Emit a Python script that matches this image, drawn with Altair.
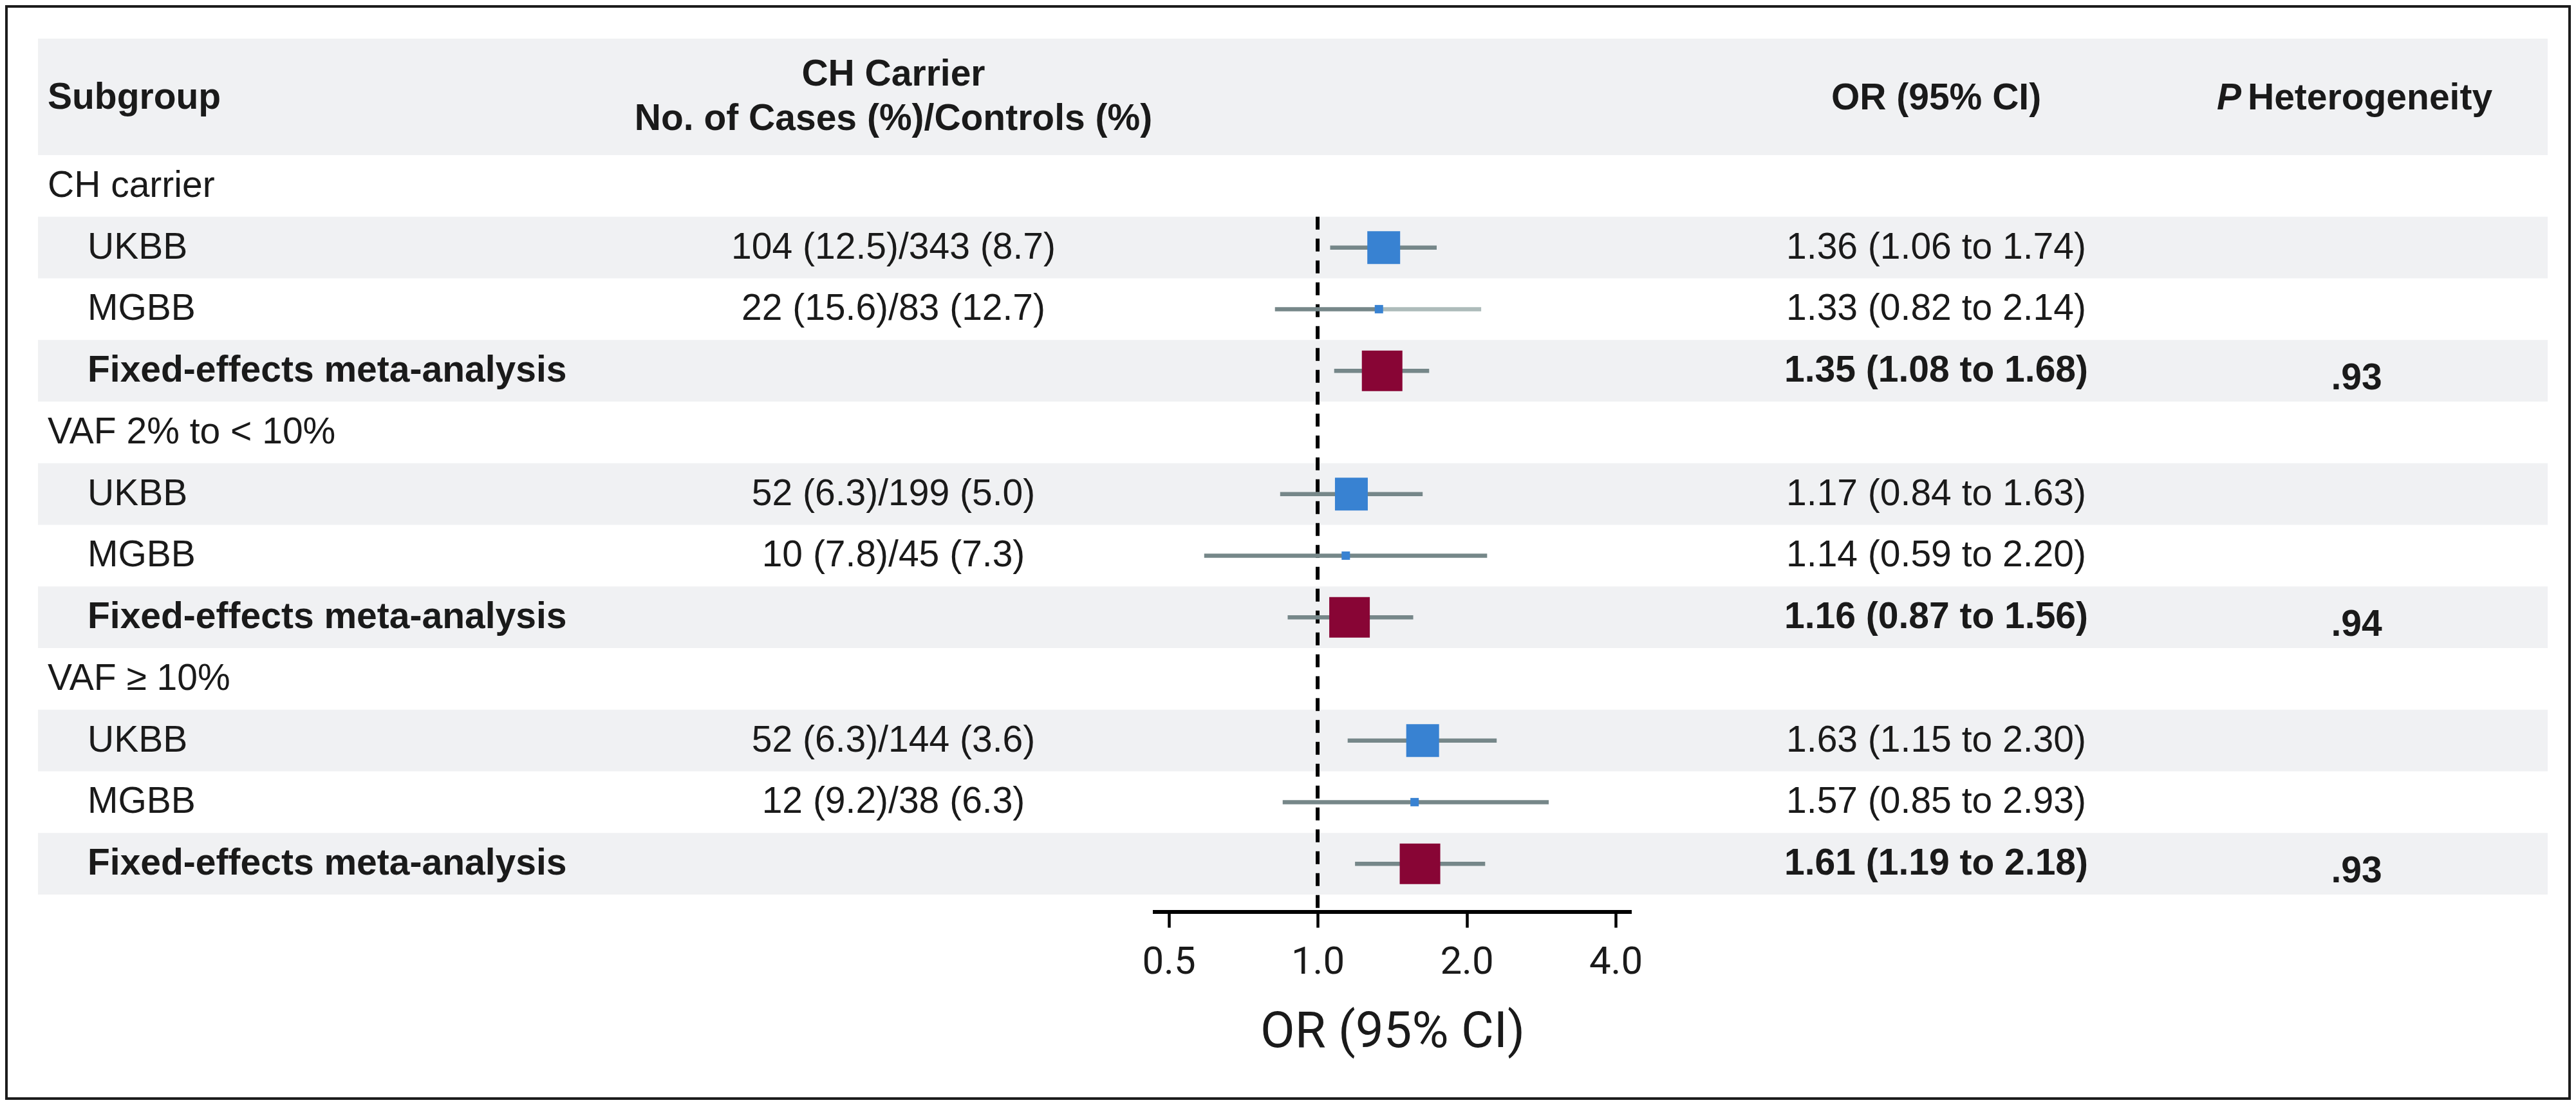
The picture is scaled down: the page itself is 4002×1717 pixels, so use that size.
import altair as alt
import pandas as pd

# ---------------- data ----------------
labels = ["CH carrier", "UKBB", "MGBB", "Fixed-effects meta-analysis",
          "VAF 2% to < 10%", "UKBB", "MGBB", "Fixed-effects meta-analysis",
          "VAF \u2265 10%", "UKBB", "MGBB", "Fixed-effects meta-analysis"]
counts = ["", "104 (12.5)/343 (8.7)", "22 (15.6)/83 (12.7)", "",
          "", "52 (6.3)/199 (5.0)", "10 (7.8)/45 (7.3)", "",
          "", "52 (6.3)/144 (3.6)", "12 (9.2)/38 (6.3)", ""]
or_est = [None, 1.36, 1.33, 1.35, None, 1.17, 1.14, 1.16, None, 1.63, 1.57, 1.61]
ci_lo = [None, 1.06, 0.82, 1.08, None, 0.84, 0.59, 0.87, None, 1.15, 0.85, 1.19]
ci_hi = [None, 1.74, 2.14, 1.68, None, 1.63, 2.20, 1.56, None, 2.30, 2.93, 2.18]
p_het = ["", "", "", ".93", "", "", "", ".94", "", "", "", ".93"]
x_ticks = [0.5, 1.0, 2.0, 4.0]
header_subgroup = "Subgroup"
header_counts = ["CH Carrier", "No. of Cases (%)/Controls (%)"]
header_or = "OR (95% CI)"
header_p = ["P", "Heterogeneity"]
axis_title = "OR (95% CI)"


def kind_of(lbl):
    if lbl in ("UKBB", "MGBB"):
        return lbl
    if lbl.startswith("Fixed"):
        return "Meta"
    return "group"


rows = []
for i, lbl in enumerate(labels):
    e, lo, hi = or_est[i], ci_lo[i], ci_hi[i]
    rows.append({
        "row": i, "row_end": i + 1, "yc": i + 0.5,
        "label": lbl, "kind": kind_of(lbl), "counts": counts[i],
        "est": e, "lo": lo, "hi": hi,
        "ortext": f"{e:.2f} ({lo:.2f} to {hi:.2f})" if e is not None else "",
        "p": p_het[i],
    })
df = pd.DataFrame(rows)

# ---------------- layout / style ----------------
FONT = "Liberation Sans"
AXFONT = "Roboto"
FS = 57
TXT = "#1a1a1a"
BAND = "#f0f1f3"
BLUE = "#3882d2"
RED = "#880535"
CI = "#768789"
CI_LIGHT = "#adbbba"

ROW0 = 229.0      # px of top of first table row inside a panel
RH = 95.75        # row height px
H = 1693          # panel height


def yv(px):
    return (px - ROW0) / RH


YS = alt.Scale(domain=[yv(0), yv(H)], reverse=True, nice=False, zero=False)
AX_PX = 1405
Y_AXIS = yv(AX_PX)

WM_L, WA, WB, WC, WM_R = 47, 1732, 814, 1353, 32
AX_LO, AX_HI = 0.4646, 4.311          # extent of the drawn axis line
XS = alt.Scale(type="log", domain=[AX_LO, 5.316], nice=False)
XAXIS = alt.Axis(values=x_ticks, format=".1f", offset=AX_PX - H, grid=False,
                 domain=False, tickColor="black",
                 tickWidth=4.5, tickSize=24, labelFont=AXFONT, labelFontSize=60,
                 labelColor=TXT, labelPadding=24, labelFlush=False,
                 titleFont=AXFONT, titleFontSize=78, titleFontWeight="normal",
                 titleColor=TXT, titlePadding=40, titleX=(744 / 2), titleAnchor="middle")


def X(field):
    return alt.X(field, type="quantitative", scale=XS, axis=XAXIS, title=axis_title)


def Y(field="yc"):
    return alt.Y(field, type="quantitative", scale=YS, axis=None)


base = alt.Chart(df)


def bands():
    b = base.transform_filter("datum.row % 2 == 1").mark_rect(color=BAND).encode(
        y=Y("row"), y2="row_end:Q")
    hb = alt.Chart(pd.DataFrame({"a": [0]})).mark_rect(color=BAND).encode(
        y=alt.datum(yv(48), scale=YS, axis=None), y2=alt.datum(0))
    return [hb, b]


def text(**kw):
    d = dict(font=FONT, fontSize=FS, color=TXT, baseline="middle")
    d.update(kw)
    return d


def htext(t, x, ypx, **kw):
    return alt.Chart(pd.DataFrame({"t": [t]})).mark_text(
        **text(fontWeight="bold", **kw)).encode(
        text="t:N", x=alt.value(x), y=alt.datum(yv(ypx), scale=YS, axis=None))


def blank(w):
    return alt.Chart(df).mark_point(opacity=0).encode(y=Y()).properties(width=w, height=H)


# Panel A: subgroup + counts
A = alt.layer(
    *bands(),
    base.transform_filter("datum.kind == 'group'").mark_text(**text(align="left")).encode(
        x=alt.value(15), y=Y(), text="label:N"),
    base.transform_filter("datum.kind == 'UKBB' || datum.kind == 'MGBB'").mark_text(
        **text(align="left")).encode(x=alt.value(77), y=Y(), text="label:N"),
    base.transform_filter("datum.kind == 'Meta'").mark_text(
        **text(align="left", fontWeight="bold")).encode(x=alt.value(77), y=Y(), text="label:N"),
    base.mark_text(**text(align="center")).encode(x=alt.value(1329), y=Y(), text="counts:N"),
    htext(header_subgroup, 15, 140, align="left"),
    htext(header_counts[0], 1329, 104, align="center"),
    htext(header_counts[1], 1329, 173, align="center"),
).properties(width=WA, height=H)

# Panel B: forest plot
est = base.transform_filter("isValid(datum.est)")
first_row = int(df[df.kind != "group"].row.min())
B = alt.layer(
    *bands(),
    alt.Chart(pd.DataFrame({"v": [1.0]})).mark_rule(
        color="black", strokeWidth=6, strokeDash=[20, 14]).encode(
        x=X("v"), y=alt.datum(first_row, scale=YS, axis=None), y2=alt.datum(Y_AXIS)),
    alt.Chart(pd.DataFrame({"a": [AX_LO], "b": [AX_HI]})).mark_rule(
        color="black", strokeWidth=6).encode(
        x=X("a"), x2="b:Q", y=alt.datum(Y_AXIS, scale=YS, axis=None)),
    est.mark_rule(strokeWidth=6.5, color=CI).encode(x=X("lo"), x2="est:Q", y=Y()),
    est.mark_rule(strokeWidth=6.5).encode(
        x=X("est"), x2="hi:Q", y=Y(),
        color=alt.condition("datum.row == 2", alt.value(CI_LIGHT), alt.value(CI))),
    est.transform_calculate(
        area="datum.kind == 'Meta' ? 63*63 : (datum.kind == 'UKBB' ? 51*51 : 13*13)"
    ).mark_square(opacity=1, filled=True).encode(
        x=X("est"), y=Y(),
        size=alt.Size("area:Q", scale=None, legend=None),
        color=alt.Color("kind:N", scale=alt.Scale(domain=["UKBB", "MGBB", "Meta"],
                                                  range=[BLUE, BLUE, RED]), legend=None)),
).properties(width=WB, height=H)

# Panel C: OR text + P heterogeneity
C = alt.layer(
    *bands(),
    est.transform_filter("datum.kind != 'Meta'").mark_text(**text(align="center")).encode(
        x=alt.value(403), y=Y(), text="ortext:N"),
    est.transform_filter("datum.kind == 'Meta'").mark_text(
        **text(align="center", fontWeight="bold")).encode(x=alt.value(403), y=Y(), text="ortext:N"),
    base.transform_filter("datum.kind == 'Meta'").mark_text(
        **text(align="center", fontWeight="bold", dy=12)).encode(x=alt.value(1056), y=Y(), text="p:N"),
    htext(header_or, 403, 141, align="center"),
    htext(header_p[0], 877, 141, align="right", fontStyle="italic"),
    htext(header_p[1], 887, 141, align="left"),
).properties(width=WC, height=H)

chart = alt.hconcat(blank(WM_L), A, B, C, blank(WM_R), spacing=0, bounds="flush").properties(
    padding=4, background="#1c1c1c"
).configure_view(fill="white", strokeWidth=0)

chart.save("out.html", embed_options={"renderer": "svg", "actions": False})
